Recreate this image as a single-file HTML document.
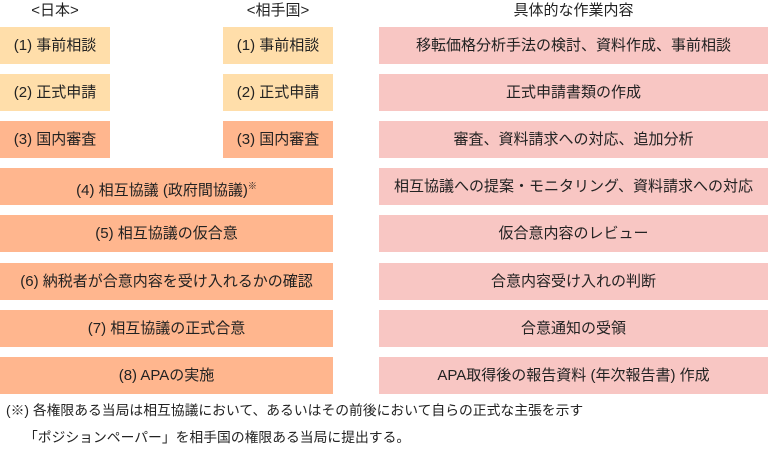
<!DOCTYPE html>
<html><head><meta charset="utf-8"><style>
body{margin:0;width:768px;height:453px;background:#fff;position:relative;overflow:hidden;font-family:"Liberation Sans","Noto Sans CJK JP",sans-serif;color:#222;font-size:15px}
.b{position:absolute;height:37px;line-height:37px;text-align:center;white-space:nowrap}
.y{background:#FFDEAA}.o{background:#FFB68E}.p{background:#F8C6C3}
.h{position:absolute;top:1px;line-height:20px;text-align:center;white-space:nowrap}
.f{position:absolute;left:6px;white-space:nowrap;font-size:13.8px;line-height:20px}
sup{font-size:9px;vertical-align:6px}
</style></head><body>
<div class="h" style="left:0;width:110px">&lt;日本&gt;</div>
<div class="h" style="left:223px;width:110px">&lt;相手国&gt;</div>
<div class="h" style="left:379px;width:389px">具体的な作業内容</div>

<div class="b y" style="left:0;width:110px;top:27px">(1) 事前相談</div>
<div class="b y" style="left:223px;width:110px;top:27px">(1) 事前相談</div>
<div class="b p" style="left:379px;width:389px;top:27px">移転価格分析手法の検討、資料作成、事前相談</div>

<div class="b y" style="left:0;width:110px;top:74px">(2) 正式申請</div>
<div class="b y" style="left:223px;width:110px;top:74px">(2) 正式申請</div>
<div class="b p" style="left:379px;width:389px;top:74px">正式申請書類の作成</div>

<div class="b o" style="left:0;width:110px;top:121px">(3) 国内審査</div>
<div class="b o" style="left:223px;width:110px;top:121px">(3) 国内審査</div>
<div class="b p" style="left:379px;width:389px;top:121px">審査、資料請求への対応、追加分析</div>

<div class="b o" style="left:0;width:333px;top:168px">(4) 相互協議 (政府間協議)<sup>※</sup></div>
<div class="b p" style="left:379px;width:389px;top:168px">相互協議への提案・モニタリング、資料請求への対応</div>

<div class="b o" style="left:0;width:333px;top:215px">(5) 相互協議の仮合意</div>
<div class="b p" style="left:379px;width:389px;top:215px">仮合意内容のレビュー</div>

<div class="b o" style="left:0;width:333px;top:263px">(6) 納税者が合意内容を受け入れるかの確認</div>
<div class="b p" style="left:379px;width:389px;top:263px">合意内容受け入れの判断</div>

<div class="b o" style="left:0;width:333px;top:310px">(7) 相互協議の正式合意</div>
<div class="b p" style="left:379px;width:389px;top:310px">合意通知の受領</div>

<div class="b o" style="left:0;width:333px;top:357px">(8) APAの実施</div>
<div class="b p" style="left:379px;width:389px;top:357px">APA取得後の報告資料 (年次報告書) 作成</div>

<div class="f" style="top:401px">(※) 各権限ある当局は相互協議において、あるいはその前後において自らの正式な主張を示す</div>
<div class="f" style="top:428px;left:24px">「ポジションペーパー」を相手国の権限ある当局に提出する。</div>
</body></html>
